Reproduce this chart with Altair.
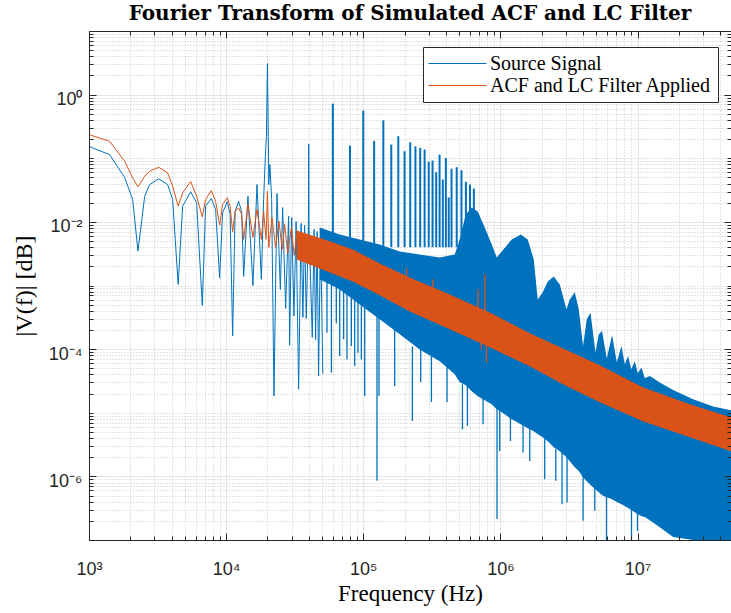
import altair as alt
import pandas as pd

BLUE = "#0072BD"
ORANGE = "#D95319"
S1 = "Source Signal"
S2 = "ACF and LC Filter Applied"

# ---------------- data ----------------
# Source signal, low-frequency lobes (Hz, |V|)
blue_f = [1000, 1413, 1820, 2081, 2275, 2547, 2768, 3221, 3744, 4074, 4467, 4819, 5510, 6095, 6701,
          7083, 7798, 8377, 8970, 9425, 10200, 10690, 11150, 11630, 12330, 12970, 13420, 14420, 15680,
          16780, 18060, 18760, 19410, 19670, 20000, 20300, 20460, 20850, 21470, 22320, 23470, 24850,
          25820, 27160, 28560, 29030, 30050, 31220, 32380, 33760, 35210, 36270, 37330, 38390, 39800,
          40000, 40200, 42460, 43820, 44900, 46100, 47200, 48800, 50700]
blue_v = [0.153, 0.114, 0.0498, 0.0225, 0.00347, 0.0253, 0.0386, 0.0475, 0.0386, 0.0225, 0.00104, 0.0177,
          0.0297, 0.0200, 0.000487, 0.0177, 0.0233, 0.0157, 0.00131, 0.0139, 0.0207, 0.0131, 0.000161,
          0.0146, 0.0211, 0.0146, 0.00139, 0.0253, 0.00100, 0.0386, 0.00125, 0.0225, 0.137, 0.221, 3.07,
          0.221, 0.0386, 0.0796, 0.0225, 1.84e-5, 0.0279, 8.68e-4, 0.0168, 4.37e-4, 0.0123, 1.15e-4,
          0.0117, 3.31e-4, 0.0101, 2.34e-5, 0.00944, 3.16e-4, 0.00878, 3.05e-4, 0.0085, 0.168, 0.0085,
          1.53e-4, 0.0076, 1.41e-4, 0.00707, 3.78e-5, 0.0068, 4.1e-5]

# Source signal, dense band (upper / lower envelope)
bb_f = [48080, 67290, 94150, 131700, 184300, 257800, 360800, 464300, 504900, 558400, 617700, 683100,
        768500, 864500, 939900, 1.022e6, 1.209e6, 1.407e6, 1.582e6, 1.750e6, 1.871e6, 2.035e6, 2.214e6,
        2.448e6, 2.708e6, 3.030e6, 3.203e6, 3.483e6, 3.725e6, 4.005e6, 4.262e6, 4.535e6, 4.932e6,
        5.213e6, 5.509e6, 5.963e6, 6.518e6, 7.054e6, 7.632e6, 8.066e6, 8.527e6, 9.0e6, 9.544e6,
        1.004e7, 1.068e7, 1.129e7, 1.227e7, 1.452e7, 1.816e7, 2.541e7, 3.555e7, 4.8e7]
bb_hi = [0.00816, 0.00634, 0.00529, 0.00442, 0.00343, 0.00308, 0.00276, 0.00308, 0.00529, 0.0131,
         0.0168, 0.0146, 0.00816, 0.00442, 0.00276, 0.00343, 0.00529, 0.00634, 0.00529, 0.00257,
         6.05e-4, 7.8e-4, 1.16e-3, 1.39e-3, 1.04e-3, 4.22e-4, 6.05e-4, 7.8e-4, 4.22e-4, 1.12e-4,
         2.94e-4, 3.74e-4, 8.9e-5, 1.71e-4, 1.92e-4, 7.1e-5, 1.66e-4, 6.2e-5, 1.12e-4, 5.77e-5,
         7.78e-5, 4.82e-5, 6.43e-5, 4.17e-5, 5.13e-5, 3.48e-5, 3.78e-5, 2.98e-5, 2.28e-5, 1.63e-5,
         1.25e-5, 1.09e-5]
bb_lo = [1.25e-3, 8.68e-4, 5.05e-4, 2.94e-4, 1.71e-4, 9.9e-5, 6.43e-5, 4.02e-5, 3.01e-5, 2.7e-5,
         2.17e-5, 1.81e-5, 1.57e-5, 1.36e-5, 1.13e-5, 1.02e-5, 7.9e-6, 6.6e-6, 5.7e-6, 5.12e-6,
         4.59e-6, 4.12e-6, 3.56e-6, 2.87e-6, 2.49e-6, 2.0e-6, 1.73e-6, 1.39e-6, 1.21e-6, 9.7e-7,
         8.4e-7, 7.3e-7, 6.3e-7, 5.65e-7, 5.07e-7, 4.71e-7, 4.38e-7, 3.94e-7, 3.66e-7, 3.41e-7,
         3.17e-7, 2.95e-7, 2.74e-7, 2.55e-7, 2.37e-7, 2.29e-7, 2.05e-7, 1.59e-7, 1.11e-7, 1e-7,
         1e-7, 1e-7]

# Source signal, harmonic spikes (upward)
hs_f = [60000, 80000, 100000, 120000, 140000, 160000, 180000, 200000, 220000, 240000, 260000, 280000,
        300000, 320000, 340000, 360000, 380000, 400000, 420000, 440000, 480000, 520000, 560000, 600000,
        640000]
hs_top = [0.722, 0.158, 0.561, 0.188, 0.395, 0.164, 0.222, 0.129, 0.178, 0.154, 0.146, 0.137, 0.0878,
          0.092, 0.0603, 0.114, 0.0463, 0.101, 0.0242, 0.0682, 0.0723, 0.0648, 0.0426, 0.0386, 0.0334]
hs_bot = [0.004, 0.004, 0.004, 0.004, 0.004, 0.004, 0.004, 0.004, 0.004, 0.004, 0.004, 0.004, 0.004,
          0.004, 0.004, 0.004, 0.004, 0.004, 0.004, 0.004, 0.004, 0.004, 0.004, 0.004, 0.004]

# Source signal, notches (downward)
ds_f = [54370, 58540, 63580, 67290, 71900, 76060, 81830, 86560, 91450, 96800, 102400, 125900, 130200,
        169400, 228100, 262200, 313900, 408000, 528400, 574500, 746800, 944600, 988300, 1.183e6,
        1.462e6, 1.636e6, 2.104e6, 2.532e6, 2.814e6, 3.061e6, 4.005e6, 4.874e6, 5.932e6, 7.63e6,
        9.03e6, 9.98e6, 1.129e7, 1.411e7]
ds_lo = [1.815e-4, 4.27e-5, 2.54e-4, 7.78e-5, 1.43e-4, 6.9e-5, 1.12e-4, 5.43e-5, 8.8e-5, 6.9e-5,
         1.84e-5, 8.5e-7, 1.84e-5, 2.64e-5, 7.43e-6, 3.05e-5, 1.48e-5, 1.46e-5, 5.51e-6, 6.2e-6,
         6.6e-6, 2.13e-7, 2.51e-6, 3.6e-6, 2.37e-6, 1.75e-6, 9.0e-7, 8.5e-7, 3.66e-7, 3.89e-7,
         2.0e-7, 2.87e-7, 1e-7, 3.94e-7, 1e-7, 1.39e-7, 3.44e-7, 1.77e-7]
ds_hi = [1.2e-3, 1.2e-3, 1.0e-3, 1.0e-3, 8e-4, 8e-4, 7e-4, 6e-4, 5.5e-4, 5e-4, 4.5e-4, 3.5e-4,
         3.5e-4, 2e-4, 1.1e-4, 1.1e-4, 9e-5, 6e-5, 2.8e-5, 2.8e-5, 2.8e-5, 2.8e-5, 2.8e-5, 9.5e-6,
         9.5e-6, 9.5e-6, 9.5e-6, 2.67e-6, 2.67e-6, 2.67e-6, 2.67e-6, 2.67e-6, 8e-7, 8e-7, 8e-7, 8e-7,
         8e-7, 8e-7]

# Filtered signal, low-frequency lobes
or_f = [1000, 1413, 1820, 2081, 2275, 2547, 2768, 3221, 3744, 4074, 4467, 4819, 5510, 6095, 6701,
        7083, 7798, 8377, 8970, 9425, 10200, 10690, 11150, 11630, 12330, 12970, 13420, 14420, 15680,
        16780, 18060, 18760, 19550, 20000, 20460, 21580, 22960, 24270, 25620, 26720, 28100, 29920,
        31340, 32960]
or_v = [0.2355, 0.185, 0.0897, 0.0492, 0.0356, 0.0521, 0.0625, 0.0722, 0.059, 0.0363, 0.0177, 0.0286,
        0.0431, 0.0253, 0.0120, 0.0225, 0.0311, 0.0211, 0.00888, 0.0188, 0.0239, 0.0175, 0.0070,
        0.0146, 0.0166, 0.0131, 0.0053, 0.0188, 0.00569, 0.0157, 0.0053, 0.0147, 0.0053, 0.0303,
        0.00396, 0.0116, 0.00396, 0.01026, 0.00369, 0.0091, 0.00319, 0.00808, 0.00297, 0.00733]

# Filtered signal, dense band
ob_f = [32680, 52310, 83700, 131700, 218100, 426900, 835700, 1.636e6, 2.945e6, 5.302e6, 1.091e7,
        2.403e7, 4.8e7]
ob_hi = [0.00733, 0.00529, 0.00369, 0.00222, 0.00134, 0.000724, 0.000378, 0.000177, 9.93e-5, 5.57e-5,
         2.51e-5, 1.36e-5, 8.5e-6]
ob_lo = [0.00257, 0.001726, 0.00116, 0.0007, 0.000392, 0.000205, 0.000107, 5.37e-5, 2.7e-5, 1.46e-5,
         7.36e-6, 4.12e-6, 2.49e-6]

# Filtered signal, spikes
os_f = [206300, 322300, 686600, 726600, 768500, 790700]
os_top = [1.87e-3, 1.25e-3, 8.7e-4, 3e-4, 1.49e-3, 3e-4]
os_bot = [1e-3, 6e-4, 3e-4, 9.9e-5, 3e-4, 6.1e-5]

# axis ticks
x_major = [1e3, 1e4, 1e5, 1e6, 1e7]
x_minor = [m * 10 ** e for e in range(3, 8) for m in range(2, 10) if m * 10 ** e <= 4.8e7]
y_major = [1e-6, 1e-4, 1e-2, 1.0]
y_minor = [m * 10.0 ** e for e in range(-7, 1) for m in range(1, 10)
           if not (m == 1 and e in (-6, -4, -2, 0))] + [10.0]

W, H = 642, 509
XDOM = [1000, 4.8e7]
YDOM = [1e-7, 10]
INK = "#262626"

xs = alt.Scale(type="log", domain=XDOM, nice=False)
ys = alt.Scale(type="log", domain=YDOM, nice=False)
cscale = alt.Scale(domain=[S1, S2], range=[BLUE, ORANGE])

SUP = "['\u2070','\u00b9','\u00b2','\u00b3','\u2074','\u2075','\u2076','\u2077','\u2078','\u2079']"
LBL = ("'10' + (round(log(datum.value)/LN10) < 0 ? '\u207b' : '') + " + SUP +
       "[abs(round(log(datum.value)/LN10))]")


def grid_axis(values, dash, color):
    return alt.Axis(values=values, grid=True, gridColor=color, gridDash=dash, gridWidth=1,
                    labels=False, ticks=False, domain=False, title=None, zindex=0)


def tick_axis(values, orient, offset, size, domain=False):
    return alt.Axis(values=values, orient=orient, offset=offset, ticks=True, tickSize=size,
                    tickColor=INK, tickWidth=1, labels=False, domain=domain, domainColor=INK,
                    domainWidth=1, grid=False, title=None, zindex=1)


def X(field, axis):
    return alt.X(field, type="quantitative", scale=xs, axis=axis)


def Y(field, axis):
    return alt.Y(field, type="quantitative", scale=ys, axis=axis)


# ---------- layers ----------
df_bb = pd.DataFrame({"f": bb_f, "hi": bb_hi, "lo": bb_lo, "s": S1})
blue_band = alt.Chart(df_bb).mark_area(color=BLUE, opacity=1, clip=True).encode(
    x=X("f", grid_axis(x_major, [1, 0], "#dcdcdc")),
    y=Y("hi", grid_axis(y_major, [1, 0], "#dcdcdc")),
    y2="lo",
)

df_bl = pd.DataFrame({"f": blue_f, "v": blue_v, "s": S1})
blue_line = alt.Chart(df_bl).mark_line(strokeWidth=1, clip=True).encode(
    x=X("f", grid_axis(x_minor, [1, 2], "#c6c6c6")),
    y=Y("v", grid_axis(y_minor, [1, 2], "#c6c6c6")),
    color=alt.Color("s:N", scale=cscale, legend=alt.Legend(
        title=None, orient="none", legendX=334, legendY=16, direction="vertical",
        symbolType="M-3,0H3", symbolSize=374, symbolStrokeWidth=1, symbolOffset=18,
        labelFont="Liberation Serif", labelFontSize=20, labelColor="black", labelLimit=400,
        labelOffset=22, padding=6, rowPadding=1, strokeColor=INK, fillColor="white",
        cornerRadius=0)),
)

main_x = alt.Axis(values=x_major, orient="bottom", labelExpr=LBL, labelFont="Liberation Sans",
                  labelFontSize=18, labelColor=INK, labelPadding=20, labelFlush=False,
                  labelOverlap=False, ticks=False, tickSize=0, domain=True, domainColor=INK,
                  domainWidth=1, grid=False, title="Frequency (Hz)", titleFont="Liberation Serif",
                  titleFontSize=23, titleFontWeight="normal", titleColor="black", titleY=60,
                  titleBaseline="alphabetic", zindex=1)
main_y = alt.Axis(values=y_major, orient="left", labelExpr=LBL, labelFont="Liberation Sans",
                  labelFontSize=18, labelColor=INK, labelPadding=7, labelOffset=5,
                  labelOverlap=False, labelFlush=False, ticks=False, tickSize=0, domain=True,
                  domainColor=INK, domainWidth=1, grid=False, title="|V(f)| [dB]",
                  titleFont="Liberation Serif", titleFontSize=24, titleFontWeight="normal",
                  titleColor="black", titleAngle=270, titleX=-58, titleY=H / 2,
                  titleBaseline="alphabetic", titleAlign="center", zindex=1)

df_hs = pd.DataFrame({"f": hs_f, "top": hs_top, "bot": hs_bot})
blue_up = alt.Chart(df_hs).mark_rule(color=BLUE, strokeWidth=2, clip=True).encode(
    x=X("f", main_x), y=Y("top", main_y), y2="bot")

df_ds = pd.DataFrame({"f": ds_f, "hi": ds_hi, "lo": ds_lo})
blue_dn = alt.Chart(df_ds).mark_rule(color=BLUE, strokeWidth=1.3, clip=True).encode(
    x=X("f", tick_axis(x_major, "top", -H, 7)),
    y=Y("hi", tick_axis(y_major, "right", -W, 7)),
    y2="lo")

df_ob = pd.DataFrame({"f": ob_f, "hi": ob_hi, "lo": ob_lo})
orange_band = alt.Chart(df_ob).mark_area(color=ORANGE, opacity=1, clip=True).encode(
    x=X("f", tick_axis(x_minor, "top", -H, 4)),
    y=Y("hi", tick_axis(y_minor, "right", -W, 4)),
    y2="lo")

df_ol = pd.DataFrame({"f": or_f, "v": or_v, "s": S2})
orange_line = alt.Chart(df_ol).mark_line(strokeWidth=1, clip=True).encode(
    x=X("f", tick_axis(x_major, "bottom", -H, 7, domain=True)),
    y=Y("v", tick_axis(y_major, "left", -W, 7, domain=True)),
    color=alt.Color("s:N", scale=cscale),
)

df_os = pd.DataFrame({"f": os_f, "top": os_top, "bot": os_bot})
orange_sp = alt.Chart(df_os).mark_rule(color=ORANGE, strokeWidth=1.3, clip=True).encode(
    x=X("f", tick_axis(x_minor, "bottom", -H, 4)),
    y=Y("top", tick_axis(y_minor, "left", -W, 4)),
    y2="bot")

chart = alt.layer(
    blue_band, blue_line, blue_up, blue_dn, orange_band, orange_line, orange_sp
).resolve_axis(x="independent", y="independent").properties(
    width=W, height=H,
    autosize="none",
    padding={"left": 89, "top": 31, "right": 0, "bottom": 73},
    title=alt.TitleParams(
        text="Fourier Transform of Simulated ACF and LC Filter",
        font="DejaVu Serif", fontSize=20, fontWeight="bold", color="black",
        anchor="middle", frame="group", baseline="alphabetic", offset=9, dy=18),
).configure_view(stroke=None).configure(background="white")

chart.save("out.html", embed_options={"renderer": "svg", "actions": False})
